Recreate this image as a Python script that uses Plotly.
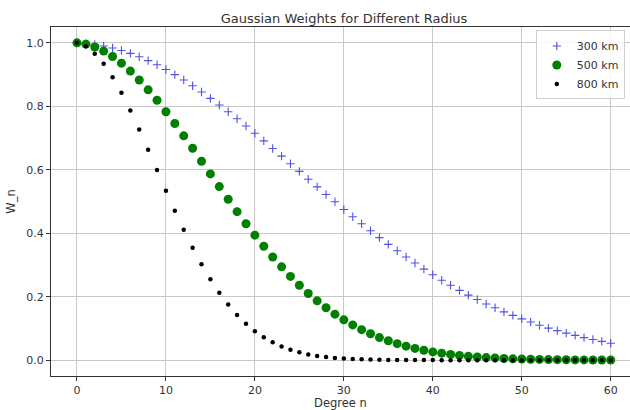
import plotly.graph_objects as go

degrees = list(range(61))

w_300 = [1.000, 0.998, 0.995, 0.990, 0.984, 0.976, 0.967, 0.956, 0.944, 0.931,
         0.916, 0.900, 0.883, 0.865, 0.845, 0.825, 0.804, 0.783, 0.761, 0.738,
         0.715, 0.691, 0.667, 0.643, 0.619, 0.595, 0.570, 0.546, 0.522, 0.499,
         0.475, 0.452, 0.430, 0.408, 0.386, 0.365, 0.345, 0.325, 0.306, 0.287,
         0.269, 0.252, 0.236, 0.220, 0.205, 0.191, 0.177, 0.165, 0.152, 0.141,
         0.130, 0.120, 0.110, 0.101, 0.093, 0.085, 0.078, 0.071, 0.065, 0.059,
         0.053]

w_500 = [1.000, 0.996, 0.987, 0.974, 0.957, 0.936, 0.911, 0.883, 0.852, 0.819,
         0.783, 0.746, 0.707, 0.668, 0.627, 0.587, 0.547, 0.507, 0.468, 0.430,
         0.394, 0.359, 0.325, 0.294, 0.264, 0.236, 0.210, 0.187, 0.165, 0.145,
         0.127, 0.111, 0.096, 0.083, 0.071, 0.061, 0.052, 0.044, 0.037, 0.031,
         0.026, 0.022, 0.018, 0.015, 0.012, 0.010, 0.008, 0.007, 0.005, 0.004,
         0.0035, 0.0028, 0.0022, 0.0017, 0.0014, 0.0011, 0.0008, 0.0007, 0.0005, 0.0004,
         0.0003]

w_800 = [1.000, 0.989, 0.966, 0.934, 0.892, 0.843, 0.787, 0.727, 0.663, 0.599,
         0.534, 0.471, 0.411, 0.354, 0.302, 0.255, 0.212, 0.175, 0.142, 0.115,
         0.091, 0.072, 0.056, 0.043, 0.033, 0.025, 0.018, 0.013, 0.0098, 0.0070,
         0.0050, 0.0035, 0.0024, 0.0017, 0.0011, 0.0008, 0.0005, 0.0003, 0.0002, 0.0001,
         0.0001, 0.0, 0.0, 0.0, 0.0, 0.0, 0.0, 0.0, 0.0, 0.0,
         0.0, 0.0, 0.0, 0.0, 0.0, 0.0, 0.0, 0.0, 0.0, 0.0,
         0.0]

series_names = ["300 km", "500 km", "800 km"]

x_ticks = [0, 10, 20, 30, 40, 50, 60]
y_ticks = [0.0, 0.2, 0.4, 0.6, 0.8, 1.0]
y_tick_text = ["0.0", "0.2", "0.4", "0.6", "0.8", "1.0"]

FONT = "DejaVu Sans, Liberation Sans, sans-serif"
TXT = "#333333"

fig = go.Figure()
fig.add_trace(go.Scatter(
    x=degrees, y=w_300, mode="markers", name=series_names[0],
    marker=dict(symbol="cross-thin", size=6, color="rgba(50,50,225,0.85)",
                line=dict(width=1.1, color="rgba(50,50,225,0.85)")),
))
fig.add_trace(go.Scatter(
    x=degrees, y=w_500, mode="markers", name=series_names[1],
    marker=dict(symbol="circle", size=9, color="#008000", line=dict(width=0)),
))
fig.add_trace(go.Scatter(
    x=degrees, y=w_800, mode="markers", name=series_names[2],
    marker=dict(symbol="circle", size=4.5, color="black", line=dict(width=0)),
))

fig.update_layout(
    width=630, height=410,
    margin=dict(l=51, r=0, t=27, b=34, autoexpand=False),
    paper_bgcolor="white", plot_bgcolor="white",
    font=dict(family=FONT, size=11, color=TXT),
    title=dict(text="Gaussian Weights for Different Radius", x=(344 / 630), xanchor="center",
               y=1 - 18 / 410, yanchor="middle", font=dict(size=13, color=TXT)),
    showlegend=True,
    legend=dict(x=0.991, y=0.99, xanchor="right", yanchor="top",
                bgcolor="rgba(255,255,255,0.85)", bordercolor="#d0d0d0", borderwidth=1,
                font=dict(size=11, color=TXT), itemsizing="trace",
                tracegroupgap=2),
)

fig.update_xaxes(
    range=[-2.92, 62.17], tickmode="array", tickvals=x_ticks,
    ticks="outside", ticklen=4, tickcolor="#333333", tickwidth=1,
    showgrid=True, gridcolor="#c8c8c8", gridwidth=1,
    showline=True, linecolor="#333333", linewidth=1, mirror=True,
    zeroline=False, automargin=False,
    title=dict(text="Degree n", font=dict(size=11.5, color=TXT), standoff=6),
)
fig.update_yaxes(
    range=[-0.05, 1.05], tickmode="array", tickvals=y_ticks, ticktext=y_tick_text,
    ticks="outside", ticklen=4, tickcolor="#333333", tickwidth=1,
    showgrid=True, gridcolor="#c8c8c8", gridwidth=1,
    showline=True, linecolor="#333333", linewidth=1, mirror=False,
    zeroline=False, automargin=False,
    title=dict(text="W_n", font=dict(size=11.5, color=TXT), standoff=8),
)

fig.write_html("out.html")
